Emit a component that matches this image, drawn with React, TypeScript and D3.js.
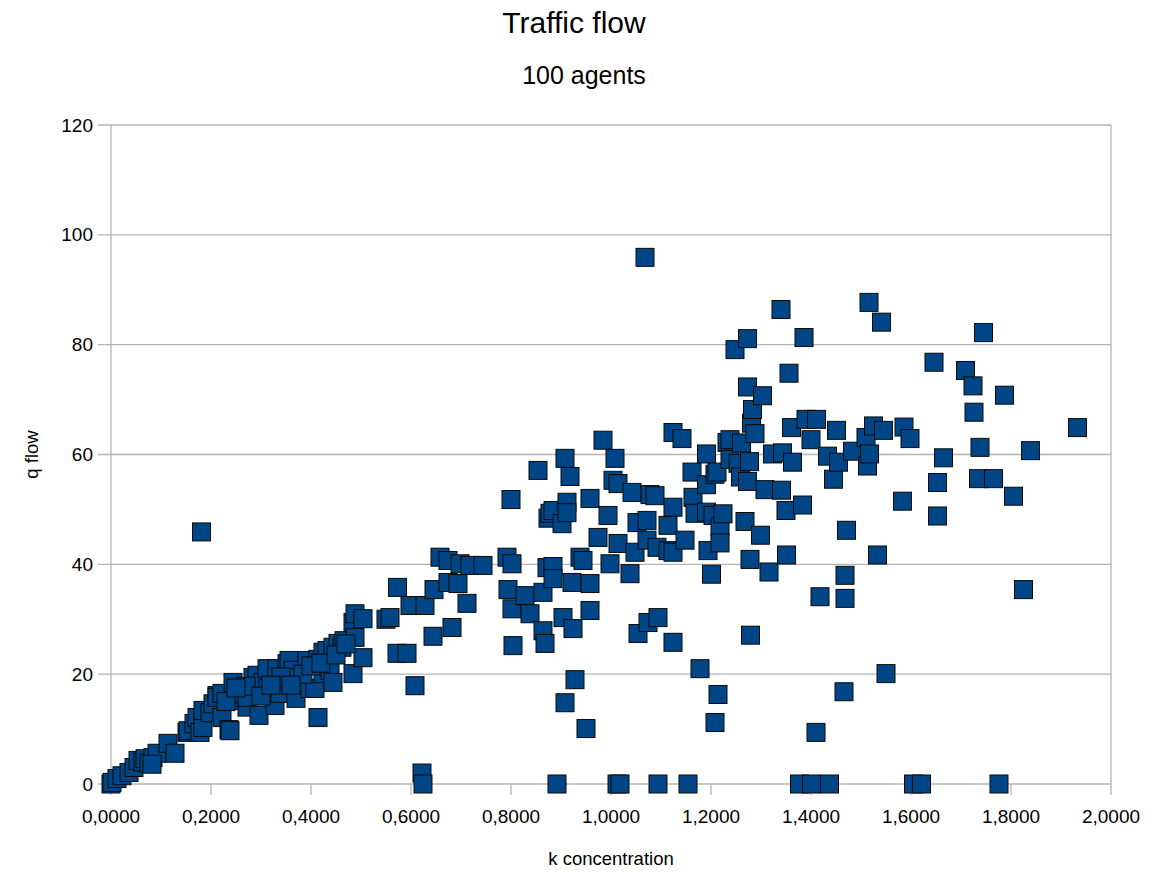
import React from "react";
import * as d3 from "d3";

// Concentration k (vehicles per unit length) and flow q for each sample
const kValues: number[] = [
  0.000, 0.002, 0.012, 0.022, 0.036, 0.046, 0.054, 0.064, 0.068, 0.076, 0.084, 0.092, 0.082,
  0.114, 0.128, 0.152, 0.154, 0.166, 0.172, 0.178, 0.184, 0.184, 0.181, 0.198, 0.204, 0.212,
  0.212, 0.222, 0.222, 0.236, 0.238, 0.244, 0.252, 0.264, 0.272, 0.272, 0.284, 0.292, 0.296,
  0.304, 0.312, 0.314, 0.328, 0.332, 0.338, 0.348, 0.352, 0.356, 0.364, 0.364, 0.370, 0.392,
  0.398, 0.408, 0.414, 0.414, 0.424, 0.424, 0.432, 0.438, 0.444, 0.444, 0.454, 0.462, 0.466,
  0.484, 0.484, 0.488, 0.488, 0.504, 0.504,
  0.384, 0.340, 0.270, 0.230, 0.250, 0.300, 0.320, 0.360, 0.400, 0.420, 0.450, 0.470,
  0.550, 0.558, 0.573, 0.572, 0.592, 0.598, 0.608, 0.622, 0.624, 0.628, 0.644, 0.646, 0.658,
  0.674, 0.674, 0.682, 0.694, 0.698, 0.712, 0.718, 0.744, 0.792, 0.794, 0.800, 0.802, 0.802,
  0.804,
  0.828, 0.838, 0.854, 0.864, 0.864, 0.868, 0.872, 0.874, 0.878, 0.884, 0.884, 0.884, 0.892,
  0.902, 0.904, 0.908, 0.908, 0.912, 0.912, 0.918, 0.922, 0.924, 0.928, 0.938, 0.944, 0.950,
  0.958, 0.958, 0.958, 0.974, 0.984, 0.994, 0.998, 1.004, 1.008, 1.012, 1.018, 1.014, 1.014,
  1.038, 1.042, 1.048, 1.052, 1.054, 1.068, 1.072, 1.072, 1.074, 1.078, 1.088, 1.092, 1.094,
  1.094, 1.114, 1.114, 1.124, 1.124, 1.124, 1.124, 1.142, 1.148, 1.154, 1.162, 1.164, 1.168,
  1.178, 1.191, 1.191, 1.191, 1.194, 1.201, 1.204, 1.208, 1.208, 1.212, 1.214, 1.218, 1.218,
  1.224, 1.232, 1.238, 1.238,
  1.248, 1.254, 1.259, 1.261, 1.268, 1.273, 1.273, 1.273, 1.277, 1.278, 1.279, 1.281, 1.283,
  1.288, 1.299, 1.303, 1.308, 1.316, 1.323, 1.340, 1.341, 1.343, 1.350, 1.351, 1.356, 1.361,
  1.363, 1.377, 1.383, 1.386, 1.390, 1.400, 1.401, 1.410, 1.411, 1.418, 1.433, 1.437, 1.445,
  1.451, 1.455, 1.466, 1.468, 1.468, 1.471, 1.483, 1.510, 1.513, 1.516, 1.517, 1.525, 1.533,
  1.541, 1.545, 1.550, 1.583, 1.586, 1.598, 1.605, 1.621, 1.646, 1.653, 1.653, 1.665, 1.709,
  1.724, 1.726, 1.735, 1.738, 1.745, 1.765, 1.776, 1.787, 1.805, 1.825, 1.839, 1.933,
];

const qValues: number[] = [
  0.0, 0.3, 1.0, 1.5, 2.1, 3.0, 4.3, 4.0, 4.6, 3.8, 4.8, 5.6, 3.6,
  7.4, 5.6, 9.4, 9.7, 11.0, 12.1, 9.4, 10.3, 13.4, 45.9, 13.0, 14.6, 16.1,
  15.8, 12.1, 16.5, 9.9, 9.7, 18.5, 15.2, 16.5, 14.0, 15.8, 19.4, 19.8, 12.5,
  18.5, 21.0, 17.4, 14.3, 21.0, 16.5, 18.9, 21.9, 22.5, 20.7, 19.4, 15.6, 22.5,
  17.4, 17.4, 22.7, 12.1, 20.1, 24.0, 24.3, 20.7, 18.5, 24.9, 25.6, 24.9, 26.1,
  29.4, 20.1, 26.7, 31.0, 30.1, 23.0,
  20.0, 19.5, 17.8, 15.0, 17.5, 16.0, 18.0, 18.0, 21.5, 22.0, 23.5, 25.5,
  30.0, 30.3, 35.8, 23.8, 23.8, 32.5, 17.9, 2.0, 0.0, 32.5, 26.9, 35.4, 41.3,
  40.7, 36.7, 28.5, 36.5, 40.1, 32.9, 39.8, 39.8, 41.3, 35.4, 51.8, 40.1, 31.9,
  25.2,
  34.3, 31.0, 57.1, 34.9, 27.9, 25.6, 39.4, 48.4, 49.3, 49.8, 39.6, 37.4, 0.0,
  47.4, 30.3, 59.3, 14.8, 51.3, 49.4, 56.0, 36.7, 28.3, 19.0, 41.3, 40.7, 10.1,
  52.0, 36.5, 31.6, 44.9, 62.6, 48.9, 40.1, 55.3, 59.3, 0.0, 0.0, 54.7, 43.8,
  38.3, 53.1, 42.2, 47.6, 27.4, 95.9, 48.0, 44.4, 29.4, 52.7, 52.5, 43.1, 30.3,
  0.0, 47.1, 42.5, 64.0, 50.4, 42.2, 25.8, 62.9, 44.4, 0.0, 56.8, 52.2, 49.3,
  21.0, 60.1, 54.5, 49.5, 42.5, 38.2, 48.9, 56.4, 11.2, 56.8, 16.3, 46.8, 43.9,
  49.2, 62.2, 62.7, 59.1,
  79.1, 58.4, 55.9, 62.1, 47.8, 81.1, 72.3, 55.1, 58.7, 40.9, 27.1, 65.7, 68.2,
  63.8, 45.3, 70.7, 53.6, 38.6, 60.1, 86.4, 53.5, 60.3, 49.8, 41.7, 74.8, 64.9,
  58.6, 0.0, 50.8, 81.3, 66.4, 62.7, 0.0, 9.4, 66.4, 34.1, 59.7, 0.0, 55.5,
  64.4, 58.6, 16.8, 38.0, 33.8, 46.2, 60.6, 63.1, 57.9, 87.7, 60.1, 65.2, 41.7,
  84.1, 64.4, 20.1, 51.5, 65.0, 62.9, 0.0, 0.0, 76.8, 54.9, 48.8, 59.4, 75.3,
  72.5, 67.7, 55.6, 61.3, 82.2, 55.6, 0.0, 70.8, 52.4, 35.4, 60.7, 64.9,
];

const xTicks: number[] = [0, 0.2, 0.4, 0.6, 0.8, 1.0, 1.2, 1.4, 1.6, 1.8, 2.0];
const yTicks: number[] = [0, 20, 40, 60, 80, 100, 120];

const W = 1156;
const H = 872;
const plot = { left: 111, right: 1111, top: 125, bottom: 784 };
const FONT = "'Liberation Sans', Arial, sans-serif";
const GRID = "#b3b3b3";
const FILL = "#004586";
const MARK = 18;

const locale = d3.formatLocale({
  decimal: ",",
  thousands: ".",
  grouping: [3],
  currency: ["", ""],
});
const fmtK = locale.format(".4f");

export default function App() {
  const x = d3.scaleLinear().domain([0, 2]).range([plot.left, plot.right]);
  const y = d3.scaleLinear().domain([0, 120]).range([plot.bottom, plot.top]);

  const points = kValues.map((k, i) => ({ k, q: qValues[i] }));

  return (
    <svg
      width={W}
      height={H}
      style={{ position: "absolute", left: 0, top: 0, background: "#fff" }}
      fontFamily={FONT}
    >
      <rect x={0} y={0} width={W} height={H} fill="#fff" />

      <text x={574} y={33} textAnchor="middle" fontSize={30} fill="#000">
        Traffic flow
      </text>
      <text x={584} y={84} textAnchor="middle" fontSize={25} fill="#000">
        100 agents
      </text>

      {/* horizontal grid lines and y ticks */}
      {yTicks.map((t) => (
        <g key={`y${t}`}>
          <line x1={plot.left - 13} x2={plot.right} y1={y(t)} y2={y(t)} stroke={GRID} strokeWidth={1.3} />
          <text x={93} y={y(t) + 6.5} textAnchor="end" fontSize={19} fill="#000">
            {t}
          </text>
        </g>
      ))}

      {/* plot frame */}
      <line x1={plot.left} x2={plot.left} y1={plot.top} y2={plot.bottom} stroke={GRID} strokeWidth={1.3} />
      <line x1={plot.right} x2={plot.right} y1={plot.top} y2={plot.bottom} stroke={GRID} strokeWidth={1.3} />

      {/* x ticks */}
      {xTicks.map((t) => (
        <g key={`x${t}`}>
          <line x1={x(t)} x2={x(t)} y1={plot.bottom} y2={plot.bottom + 11} stroke={GRID} strokeWidth={1.3} />
          <text x={x(t)} y={823} textAnchor="middle" fontSize={19} fill="#000">
            {fmtK(t)}
          </text>
        </g>
      ))}

      {/* data markers */}
      {points.map((p, i) => (
        <rect
          key={i}
          x={x(p.k) - MARK / 2}
          y={y(p.q) - MARK / 2}
          width={MARK}
          height={MARK}
          fill={FILL}
          stroke="#0a0a0a"
          strokeWidth={1}
        />
      ))}

      <text x={611} y={865} textAnchor="middle" fontSize={18.5} fill="#000">
        k concentration
      </text>
      <text
        transform={`translate(38, ${(plot.top + plot.bottom) / 2}) rotate(-90)`}
        textAnchor="middle"
        fontSize={18.5}
        fill="#000"
      >
        q flow
      </text>
    </svg>
  );
}
